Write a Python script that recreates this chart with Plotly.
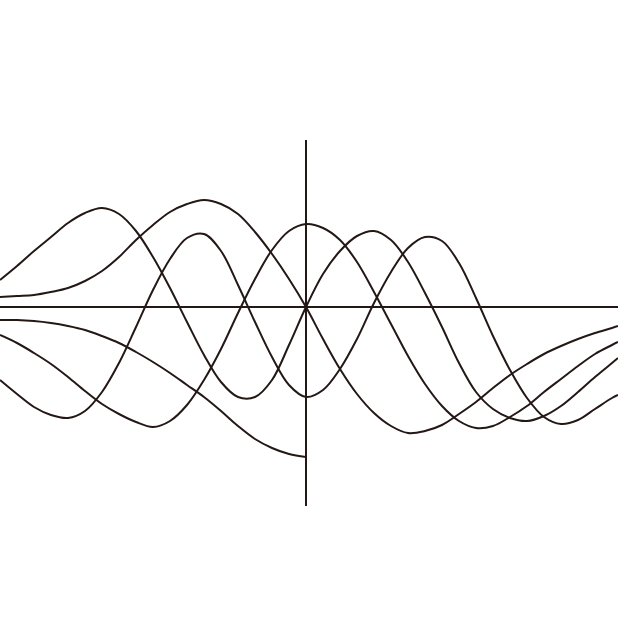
import plotly.graph_objects as go

# Horizontal sample positions (offset from the vertical axis), in picture units
grid_x = [-306, -289, -272, -255, -238, -221, -204, -187, -170, -153, -136, -119, -102, -85, -68, -51, -34, -17,
          0, 17, 34, 51, 68, 85, 102, 119, 136, 153, 170, 187, 204, 221, 238, 255, 272, 289, 306, 312]
left_x = [-306, -289, -272, -255, -238, -221, -204, -187, -170, -153, -136, -119, -102, -85, -68, -51, -34, -17, 0]

# Heights above the horizontal axis
a_y = [27, 41, 56, 70, 84, 94, 99, 93, 76, 50, 19, -15, -48, -75, -90, -90, -73, -38, 0, 33,
       56, 71, 76, 67, 45, 14, -20, -56, -85, -102, -111, -114, -109, -99, -85, -70, -56, -51]
b_y = [10, 11, 12, 15, 19, 26, 36, 50, 67, 82, 95, 103, 107, 103, 93, 75, 53, 28, 0, -32,
       -62, -87, -106, -119, -126, -124, -118, -107, -95, -81, -68, -57, -47, -39, -32, -26, -21, -19]
c_y = [-73, -87, -100, -108, -111, -104, -85, -56, -20, 17, 48, 69, 73, 56, 22, -15, -50, -78, -90, -83,
       -62, -32, 4, 35, 59, 70, 66, 44, 9, -29, -63, -91, -110, -117, -113, -102, -91, -88]
d_y = [-28, -36, -46, -57, -70, -84, -97, -107, -115, -120, -114, -98, -73, -42, -6, 28, 57, 76, 83, 79,
       67, 45, 15, -17, -49, -77, -99, -114, -121, -119, -110, -99, -85, -72, -59, -47, -38, -35]
e_y = [-13, -13, -14, -16, -19, -23, -29, -36, -45, -55, -66, -78, -90, -104, -119, -132, -141, -147, -150]

# Axis line extents
h_axis_x = [-306, 312]
h_axis_y = [0, 0]
v_axis_x = [0, 0]
v_axis_y = [167, -199]

INK = "#231815"

fig = go.Figure()
for xs, ys in [(h_axis_x, h_axis_y), (v_axis_x, v_axis_y)]:
    fig.add_trace(go.Scatter(x=xs, y=ys, mode="lines",
                             line=dict(color=INK, width=2), hoverinfo="skip"))
for xs, ys in [(grid_x, a_y), (grid_x, b_y), (grid_x, c_y), (grid_x, d_y), (left_x, e_y)]:
    fig.add_trace(go.Scatter(x=xs, y=ys, mode="lines",
                             line=dict(color=INK, width=2, shape="spline", smoothing=1.0),
                             hoverinfo="skip"))

fig.update_layout(
    width=618, height=618,
    margin=dict(l=0, r=0, t=0, b=0),
    paper_bgcolor="white", plot_bgcolor="white",
    showlegend=False,
    xaxis=dict(visible=False, range=[-306, 312], fixedrange=True),
    yaxis=dict(visible=False, range=[-311, 307], fixedrange=True),
)
fig.write_html("out.html", config={"displayModeBar": False},
               post_script="document.body.style.margin='0';")
